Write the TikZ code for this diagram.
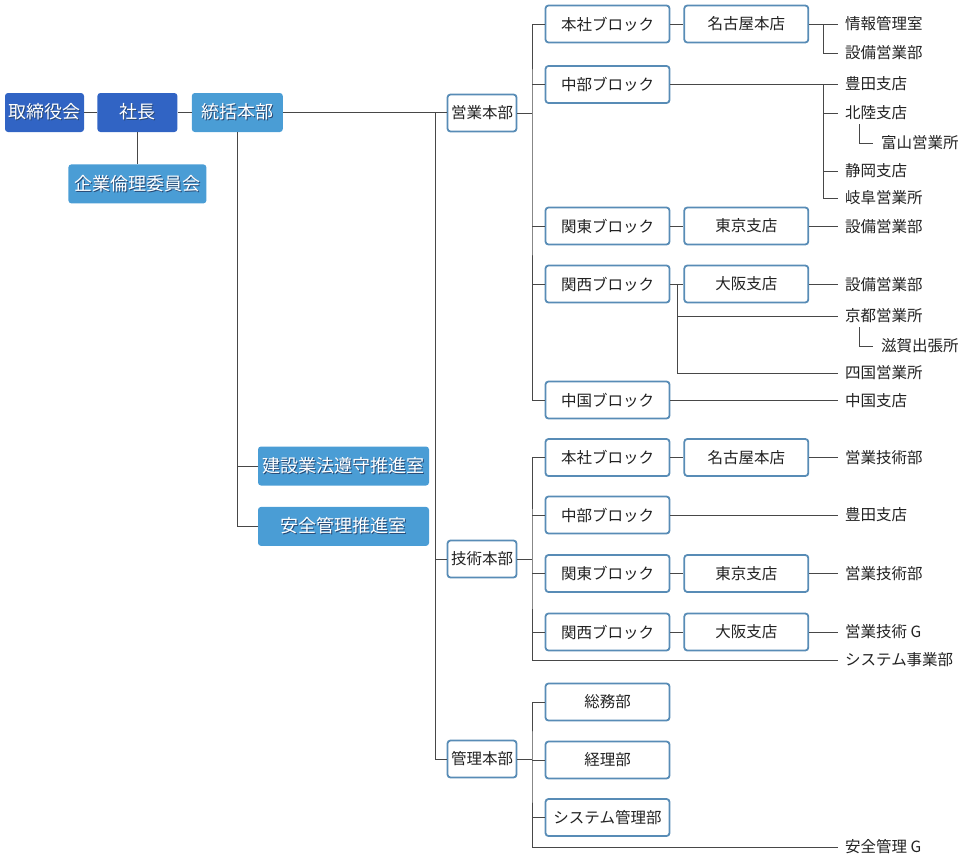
\documentclass[tikz,border=0pt]{standalone}
\usepackage{fontspec}
\setmainfont{Noto Sans CJK JP}
\usetikzlibrary{positioning}
\definecolor{darkblue}{RGB}{49,100,196}
\definecolor{lightblue}{RGB}{74,157,213}
\definecolor{edgeblue}{RGB}{88,140,182}
\definecolor{shadowc}{RGB}{40,72,115}
\definecolor{inkgray}{RGB}{34,34,34}
\newcommand{\shadowtxt}[1]{\leavevmode\rlap{\kern1pt\raisebox{-1pt}{\textcolor{shadowc}{#1}}}#1}

\begin{document}
\begin{tikzpicture}[x=1pt,y=-1pt,
font=\fontsize{15.5}{18}\selectfont,
topbox/.style={rectangle,rounded corners=3pt,fill=#1,text=white,
    minimum height=39pt,inner sep=0pt,font=\fontsize{18}{21}\selectfont},
hqbox/.style={draw=edgeblue,line width=1.8pt,rounded corners=3pt,fill=white,
    text=inkgray,minimum width=69pt,minimum height=37pt,inner sep=0pt},
blockbox/.style={hqbox,minimum width=124pt},
leaf/.style={anchor=west,inner xsep=7pt,inner ysep=1pt,text=inkgray},
link/.style={draw=black!72,line width=1pt}]
\useasboundingbox (0,0) rectangle (961,865);
% top management
\node (board) [topbox=darkblue,minimum width=79pt] at (44.5,112.5) {\shadowtxt{取締役会}};
\node (pres) [topbox=darkblue,minimum width=80pt,right=13pt of board] {\shadowtxt{社長}};
\node (hq) [topbox=lightblue,minimum width=91pt,right=14pt of pres] {\shadowtxt{統括本部}};
\node (ethics) [topbox=lightblue,minimum width=138pt,below=32pt of pres] {\shadowtxt{企業倫理委員会}};
\node (comply) [topbox=lightblue,minimum width=171pt] at (343.5,466) {\shadowtxt{建設業法遵守推進室}};
\node (safety) [topbox=lightblue,minimum width=171pt,below=21pt of comply] {\shadowtxt{安全管理推進室}};
% head offices
\node (sales) [hqbox] at (482,113) {営業本部};
\node (tech) [hqbox] at (482,559) {技術本部};
\node (admin) [hqbox] at (482,759) {管理本部};
% sales blocks
\node (shon) [blockbox] at (607.5,24) {本社ブロック};
\node (snag) [blockbox,right=13pt of shon] {名古屋本店};
\node (schu) [blockbox] at (607.5,84.5) {中部ブロック};
\node (skan) [blockbox] at (607.5,226) {関東ブロック};
\node (stok) [blockbox,right=13pt of skan] {東京支店};
\node (skai) [blockbox] at (607.5,284) {関西ブロック};
\node (sosa) [blockbox,right=13pt of skai] {大阪支店};
\node (schg) [blockbox] at (607.5,400) {中国ブロック};
% tech blocks
\node (thon) [blockbox] at (607.5,457.5) {本社ブロック};
\node (tnag) [blockbox,right=13pt of thon] {名古屋本店};
\node (tchu) [blockbox] at (607.5,515) {中部ブロック};
\node (tkan) [blockbox] at (607.5,573.5) {関東ブロック};
\node (ttok) [blockbox,right=13pt of tkan] {東京支店};
\node (tkai) [blockbox] at (607.5,632) {関西ブロック};
\node (tosa) [blockbox,right=13pt of tkai] {大阪支店};
% admin departments
\node (asom) [blockbox] at (607.5,702) {総務部};
\node (akei) [blockbox] at (607.5,760) {経理部};
\node (asys) [blockbox] at (607.5,817.5) {システム管理部};
% branch offices
\node (sinfo) [leaf] at (838,24) {情報管理室};
\node (ssetsu) [leaf] at (838,53) {設備営業部};
\node (stoyo) [leaf] at (838,84) {豊田支店};
\node (shoku) [leaf] at (838,113) {北陸支店};
\node (stoya) [leaf,inner xsep=8pt] at (873,143) {富山営業所};
\node (sshizu) [leaf] at (838,171) {静岡支店};
\node (sgifu) [leaf] at (838,198) {岐阜営業所};
\node (skset) [leaf] at (838,227) {設備営業部};
\node (ssset) [leaf] at (838,285) {設備営業部};
\node (skyo) [leaf] at (838,316) {京都営業所};
\node (sshiga) [leaf,inner xsep=8pt] at (873,346) {滋賀出張所};
\node (sshik) [leaf] at (838,373) {四国営業所};
\node (schs) [leaf] at (838,401) {中国支店};
\node (teig) [leaf] at (838,457.5) {営業技術部};
\node (ttoyo) [leaf] at (838,515) {豊田支店};
\node (teigb) [leaf] at (838,574) {営業技術部};
\node (teigg) [leaf] at (838,632) {営業技術 G};
\node (tsys) [leaf] at (838,660) {システム事業部};
\node (aanz) [leaf] at (838,847) {安全管理 G};
% connectors, top
\draw[link] (board) -- (pres);
\draw[link] (pres) -- (hq);
\draw[link] (pres) -- (ethics);
\draw[link] (hq.south) |- (comply.west);
\draw[link] (hq.south) |- (safety.west);
\draw[link] (hq.east) -- (hq.east -| sales.west);
\coordinate (trunk) at (435,112.5);
\draw[link] (trunk) |- (tech.west);
\draw[link] (trunk) |- (admin.west);
% connectors, sales
\coordinate (sbus) at (532,113);
\draw[link] (sales) -- (sbus);
\draw[link] (shon.west) -| (sbus) |- (schg.west);
\draw[link] (sbus |- schu) -- (schu.west);
\draw[link] (sbus |- skan) -- (skan.west);
\draw[link] (sbus |- skai) -- (skai.west);
\draw[link] (shon) -- (snag);
\draw[link] (skan) -- (stok);
\draw[link] (skai) -- (sosa);
\coordinate (svx) at (823,0);
\draw[link] (snag.east) -- (snag.east -| sinfo.west);
\draw[link] (snag.east -| svx) |- (ssetsu.west);
\draw[link] (schu.east) -- (schu.east -| stoyo.west);
\draw[link] (schu.east -| svx) |- (sgifu.west);
\draw[link] (svx |- shoku) -- (shoku.west);
\draw[link] (svx |- sshizu) -- (sshizu.west);
\draw[link] (shoku.south west) ++(21,3) |- (stoya.west);
\draw[link] (stok.east) -- (stok.east -| skset.west);
\draw[link] (sosa.east) -- (sosa.east -| ssset.west);
\coordinate (kvx) at (677,284);
\draw[link] (kvx) |- (sshik.west);
\draw[link] (kvx |- skyo) -- (skyo.west);
\draw[link] (skyo.south west) ++(21,3) |- (sshiga.west);
\draw[link] (schg.east) -- (schg.east -| schs.west);
% connectors, tech
\coordinate (tbus) at (532,559);
\draw[link] (tech) -- (tbus);
\draw[link] (thon.west) -| (tbus) |- (tsys.west);
\draw[link] (tbus |- tchu) -- (tchu.west);
\draw[link] (tbus |- tkan) -- (tkan.west);
\draw[link] (tbus |- tkai) -- (tkai.west);
\draw[link] (thon) -- (tnag);
\draw[link] (tkan) -- (ttok);
\draw[link] (tkai) -- (tosa);
\draw[link] (tnag.east) -- (tnag.east -| teig.west);
\draw[link] (tchu.east) -- (tchu.east -| ttoyo.west);
\draw[link] (ttok.east) -- (ttok.east -| teigb.west);
\draw[link] (tosa.east) -- (tosa.east -| teigg.west);
% connectors, admin
\coordinate (abus) at (532,759);
\draw[link] (admin) -- (abus);
\draw[link] (asom.west) -| (abus) |- (aanz.west);
\draw[link] (abus |- akei) -- (akei.west);
\draw[link] (abus |- asys) -- (asys.west);
\end{tikzpicture}
\end{document}
